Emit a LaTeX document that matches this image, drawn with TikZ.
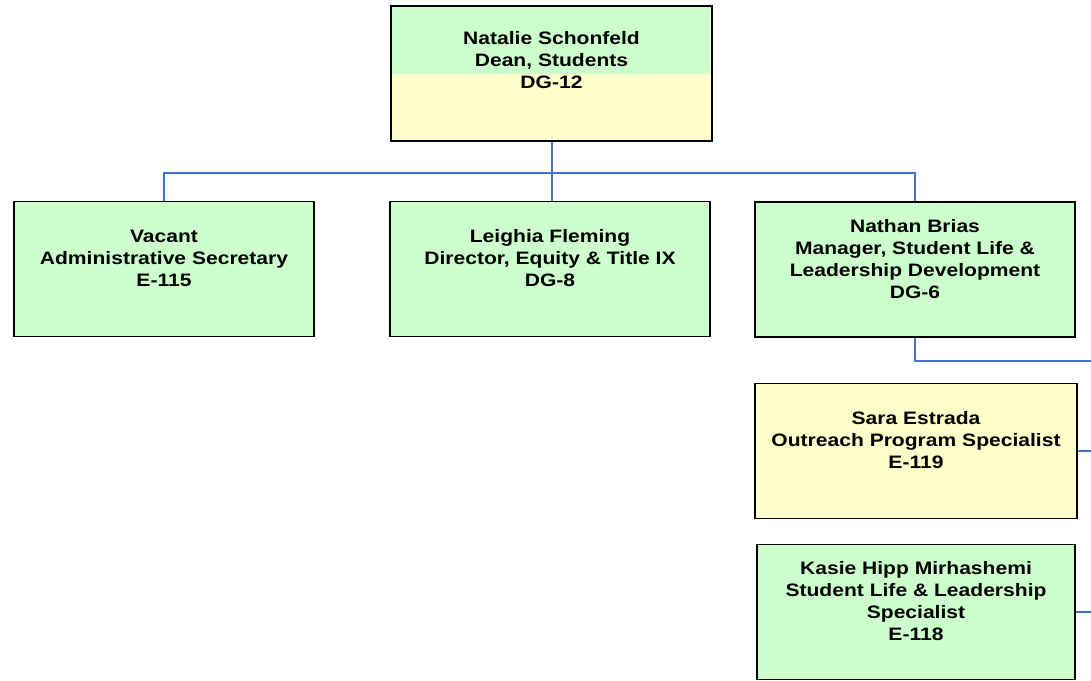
\documentclass[tikz,border=0pt]{standalone}
\usepackage{fontspec}
\setmainfont[FakeStretch=1.17]{Liberation Sans}
\definecolor{boxgreen}{RGB}{204,255,204}
\definecolor{boxyellow}{RGB}{255,255,204}
\definecolor{linkblue}{RGB}{68,114,196}
\begin{document}
\begin{tikzpicture}
  [x=1pt,y=-1pt,
   box/.style={rectangle,draw=black,line width=1.6pt,fill=boxgreen,align=center,
     font=\fontsize{18}{22}\selectfont\bfseries,minimum height=135pt},
   halfbox/.style={box,fill=boxyellow,path picture={\fill[boxgreen]
     (path picture bounding box.north west) rectangle (path picture bounding box.east);}},
   conn/.style={draw=linkblue,line width=2pt}]
  \useasboundingbox (0,0) rectangle (1091,680);
  \node[halfbox,minimum width=321pt] (dean) at (551.5,73.5) {Natalie Schonfeld\\Dean, Students\\DG-12\\[5pt]\mbox{}};
  \node[box,minimum width=300pt] (vacant) at (164,269) {Vacant\\Administrative Secretary\\E-115\\\mbox{}};
  \node[box,minimum width=320pt] (fleming) at (550,269) {Leighia Fleming\\Director, Equity \& Title IX\\DG-8\\\mbox{}};
  \node[box,minimum width=320pt] (brias) at (915,269.5) {Nathan Brias\\Manager, Student Life \&\\Leadership Development\\DG-6\\\mbox{}};
  \node[box,fill=boxyellow,minimum width=322pt] (estrada) at (916,451) {Sara Estrada\\Outreach Program Specialist\\E-119\\\mbox{}};
  \node[box,minimum width=318pt] (hipp) at (916,612) {Kasie Hipp Mirhashemi\\Student Life \& Leadership\\Specialist\\E-118\\\mbox{}};
%  \node (gap) at (1100,450) {};

  \coordinate (out1) at (1091,361);
  \coordinate (out2) at (1091,451);
  \coordinate (out3) at (1091,612);

  \draw[conn] (dean.south) -- (dean.south |- fleming.north);
  \draw[conn] (vacant.north) -- ++(0,-28) -| (brias.north);
  \draw[conn] (brias.south) |- (out1);
  \foreach \from/\to in {estrada/out2, hipp/out3}
    \draw[conn] (\from.east) -- (\to);
\end{tikzpicture}
\end{document}
